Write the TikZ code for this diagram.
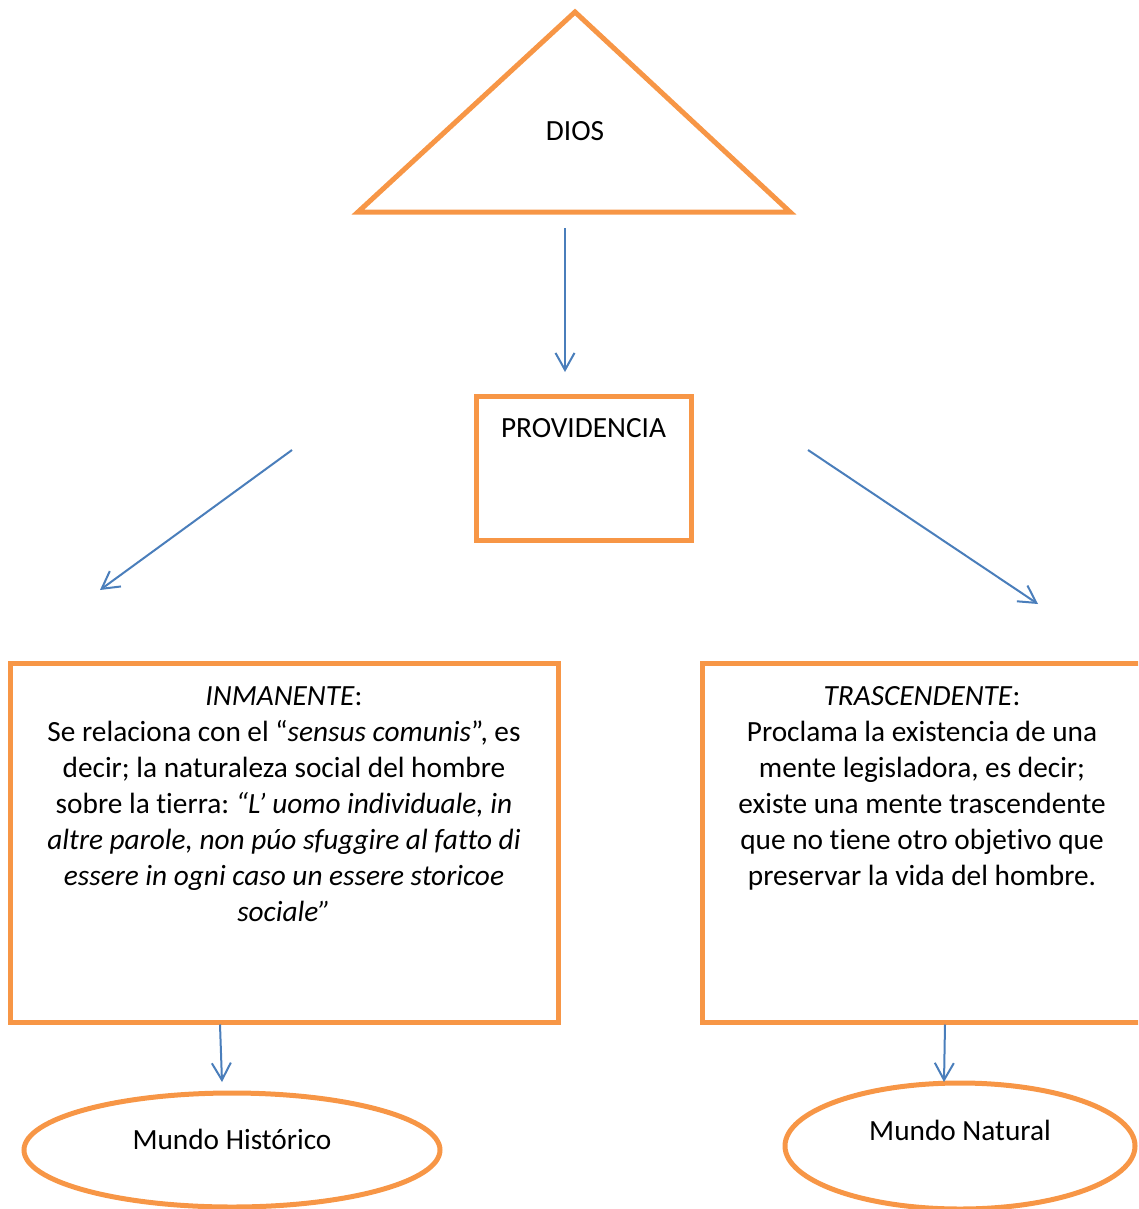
\documentclass[tikz,border=0pt]{standalone}
\usepackage{fontspec}
\setmainfont{Carlito}[Ligatures=NoCommon]
\usepackage{tikz}
\usetikzlibrary{arrows.meta,shapes}
\definecolor{boxorange}{HTML}{F79646}
\definecolor{linkblue}{HTML}{4A7EBB}
\frenchspacing

\begin{document}
\begin{tikzpicture}[x=1pt,y=-1pt,>={Straight Barb[length=17pt,width=19pt]}]
      \tikzstyle{frame}=[rectangle,draw=boxorange,line width=5pt]
      \tikzstyle{oval}=[ellipse,draw=boxorange,line width=5pt,inner sep=0pt]
      \tikzstyle{txt}=[align=center,inner sep=0pt,font=\fontsize{29.3}{36}\selectfont]
      \tikzstyle{link}=[linkblue,line width=2pt,->]

      \useasboundingbox (0,0) rectangle (1138,1209);
      \clip (0,0) rectangle (1138,1209);

      \draw[boxorange,line width=5pt] (575,12) -- (790,212) -- (358,212) -- cycle;
      \node[txt](dios) at (575,131){DIOS};

      \node[frame,minimum width=215pt,minimum height=144pt](prov) at (583.5,468){};
      \node[txt,anchor=north,yshift=-24.6pt](provtxt) at (prov.north){PROVIDENCIA};

      \node[frame,minimum width=548pt,minimum height=359pt](inman) at (284,842.5){};
      \node[txt,anchor=north,yshift=-25.6pt](inmantxt) at (inman.north){%
        \textit{INMANENTE}:\\
        Se relaciona con el “\textit{sensus comunis}”, es\\
        decir; la naturaleza social del hombre\\
        sobre la tierra: \textit{“L’ uomo individuale, in}\\
        \textit{altre parole, non púo sfuggire al fatto di}\\
        \textit{essere in ogni caso un essere storicoe}\\
        \textit{sociale”}};

      \node[frame,minimum width=440pt,minimum height=359pt](trasc) at (922,842.5){};
      \node[txt,anchor=north,yshift=-25.6pt](trasctxt) at (trasc.north){%
        \textit{TRASCENDENTE}:\\
        Proclama la existencia de una\\
        mente legisladora, es decir;\\
        existe una mente trascendente\\
        que no tiene otro objetivo que\\
        preservar la vida del hombre.};

      \node[oval,minimum width=416pt,minimum height=114pt](hist) at (232,1150){};
      \node[txt](histtxt) at (232,1139){Mundo Histórico};
      \node[oval,minimum width=350pt,minimum height=126pt](nat) at (960,1146){};
      \node[txt](nattxt) at (960,1130){Mundo Natural};

      \coordinate (d1) at (565,228);
      \coordinate (d2) at (565,372);
      \coordinate (l1) at (292,450);
      \coordinate (l2) at (100,590);
      \coordinate (r1) at (808,450);
      \coordinate (r2) at (1038,604);
      \coordinate (h1) at ([xshift=-64pt]inman.south);
      \coordinate (h2) at (222,1082);
      \coordinate (n1) at ([xshift=23pt]trasc.south);
      \coordinate (n2) at (944,1082);

      \path[link]
      (d1) edge (d2)
      (l1) edge (l2)
      (r1) edge (r2)
      (h1) edge (h2)
      (n1) edge (n2);
\end{tikzpicture}
\end{document}
